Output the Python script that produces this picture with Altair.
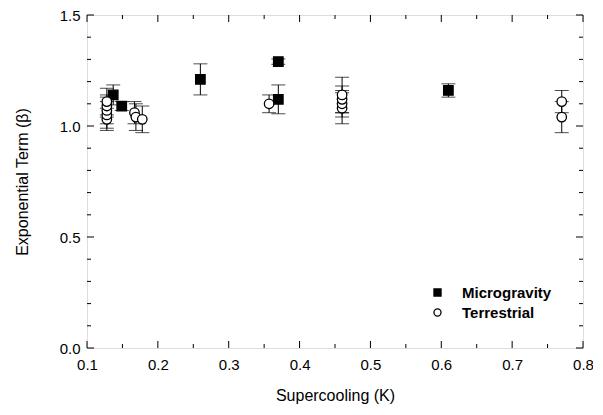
import altair as alt
import pandas as pd

# Microgravity (filled squares)
mg_x = [0.137, 0.149, 0.26, 0.37, 0.37, 0.61]
mg_y = [1.14, 1.09, 1.21, 1.29, 1.12, 1.16]
mg_err = [0.045, 0.02, 0.07, 0.012, 0.065, 0.03]

# Terrestrial (open circles)
te_x = [0.128, 0.128, 0.128, 0.128, 0.128, 0.167, 0.169, 0.178, 0.357, 0.46, 0.46, 0.46, 0.46, 0.77, 0.77]
te_y = [1.03, 1.05, 1.07, 1.09, 1.11, 1.06, 1.04, 1.03, 1.10, 1.08, 1.10, 1.12, 1.14, 1.11, 1.04]
te_err = [0.05, 0.06, 0.06, 0.05, 0.06, 0.05, 0.06, 0.06, 0.04, 0.07, 0.06, 0.06, 0.08, 0.05, 0.07]

series_names = ["Microgravity", "Terrestrial"]

y_major = [0.0, 0.5, 1.0, 1.5]
y_minor = [0.1, 0.2, 0.3, 0.4, 0.6, 0.7, 0.8, 0.9, 1.1, 1.2, 1.3, 1.4]
x_major = [0.1, 0.2, 0.3, 0.4, 0.5, 0.6, 0.7, 0.8]
x_minor = [0.15, 0.25, 0.35, 0.45, 0.55, 0.65, 0.75]

W, H = 496, 333
FONT = "Liberation Sans"

rows = []
for x, y, e in zip(mg_x, mg_y, mg_err):
    rows.append({"x": x, "y": y, "lo": y - e, "hi": y + e, "s": series_names[0]})
for x, y, e in zip(te_x, te_y, te_err):
    rows.append({"x": x, "y": y, "lo": y - e, "hi": y + e, "s": series_names[1]})
df = pd.DataFrame(rows)

xs = alt.Scale(domain=[0.1, 0.8], nice=False, zero=False)
ys = alt.Scale(domain=[0.0, 1.5], nice=False, zero=False)

xax = alt.Axis(values=x_major, format=".1f", ticks=False, domain=False, grid=False,
               labelFont=FONT, labelFontSize=15, labelColor="black", labelPadding=9,
               labelFlush=False, labelOverlap=False,
               titleFont=FONT, titleFontSize=16, titleFontWeight="normal", titleColor="black",
               titlePadding=15)
yax = alt.Axis(values=y_major, format=".1f", ticks=False, domain=False, grid=False,
               labelFont=FONT, labelFontSize=15, labelColor="black", labelPadding=7,
               labelFlush=False, labelOverlap=False,
               titleFont=FONT, titleFontSize=16, titleFontWeight="normal", titleColor="black",
               titlePadding=29)

base = alt.Chart(df)

bars = base.mark_rule(color="black", strokeWidth=1).encode(
    x=alt.X("x:Q", scale=xs, axis=xax, title="Supercooling (K)"),
    y=alt.Y("lo:Q", scale=ys, axis=yax, title="Exponential Term (β)"),
    y2="hi:Q",
)
cap_lo = base.mark_tick(orient="horizontal", size=14, thickness=1, color="black").encode(
    x=alt.X("x:Q", scale=xs), y=alt.Y("lo:Q", scale=ys)
)
cap_hi = base.mark_tick(orient="horizontal", size=14, thickness=1, color="black").encode(
    x=alt.X("x:Q", scale=xs), y=alt.Y("hi:Q", scale=ys)
)

leg = alt.Legend(title=None, orient="none", legendX=343, legendY=270,
                 labelFont=FONT, labelFontSize=15, labelFontWeight="bold",
                 labelColor="black", symbolSize=50, symbolStrokeWidth=1.3,
                 rowPadding=4, labelOffset=17)

pts = base.mark_point(size=90, strokeWidth=1.3, opacity=1, filled=False).encode(
    x=alt.X("x:Q", scale=xs),
    y=alt.Y("y:Q", scale=ys),
    shape=alt.Shape("s:N", scale=alt.Scale(domain=series_names, range=["square", "circle"]), legend=leg),
    fill=alt.Fill("s:N", scale=alt.Scale(domain=series_names, range=["black", "white"]), legend=leg),
    stroke=alt.Stroke("s:N", scale=alt.Scale(domain=series_names, range=["black", "black"]), legend=leg),
)

def yticks(vals, length):
    d = pd.DataFrame({"v": vals})
    left = alt.Chart(d).mark_rule(color="black").encode(
        y=alt.Y("v:Q", scale=ys), x=alt.value(0), x2=alt.value(length))
    right = alt.Chart(d).mark_rule(color="black").encode(
        y=alt.Y("v:Q", scale=ys), x=alt.value(W), x2=alt.value(W - length))
    return [left, right]

def xticks(vals, length):
    d = pd.DataFrame({"v": vals})
    bot = alt.Chart(d).mark_rule(color="black").encode(
        x=alt.X("v:Q", scale=xs), y=alt.value(H), y2=alt.value(H - length))
    top = alt.Chart(d).mark_rule(color="black").encode(
        x=alt.X("v:Q", scale=xs), y=alt.value(0), y2=alt.value(length))
    return [bot, top]

tick_layers = yticks(y_major, 7) + yticks(y_minor, 4) + xticks(x_major, 7) + xticks(x_minor, 4)

chart = alt.layer(bars, cap_lo, cap_hi, *tick_layers, pts).properties(
    width=W, height=H,
    autosize=alt.AutoSizeParams(type="none"),
    padding={"left": 79, "top": 7, "right": 10, "bottom": 59},
).configure_view(stroke="black", strokeWidth=1.2).configure(background="white")

chart.save("out.html", embed_options={"renderer": "svg", "actions": False})
